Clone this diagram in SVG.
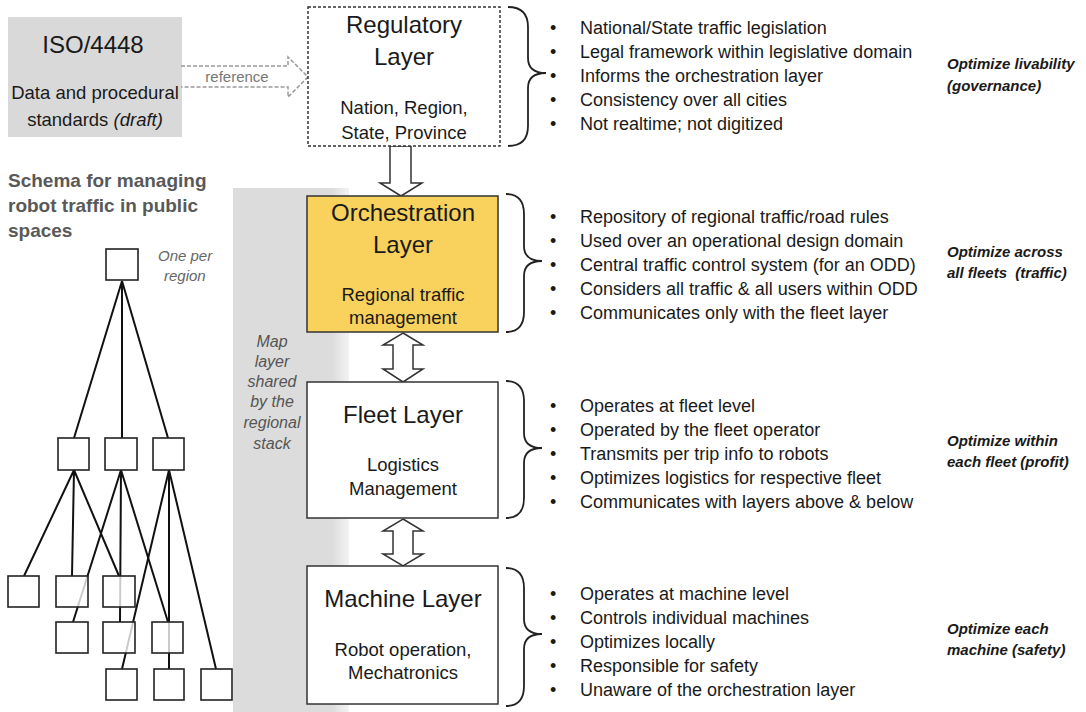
<svg xmlns="http://www.w3.org/2000/svg" width="1086" height="712" viewBox="0 0 1086 712">
<defs>
<linearGradient id="band" x1="0" y1="0" x2="1" y2="0">
<stop offset="0" stop-color="#dcdcdc"/><stop offset="0.85" stop-color="#dcdcdc"/><stop offset="1" stop-color="#f3f3f3"/>
</linearGradient>
<style>
text{font-family:"Liberation Sans",Arial,sans-serif;fill:#1a1a1a}
.title{font-size:24px;text-anchor:middle}
.sub{font-size:18.5px;text-anchor:middle}
.bul{font-size:18px}
.opt{font-size:15px;font-weight:bold;font-style:italic}
.layer{stroke:#333;stroke-width:1.5}
.brace{fill:none;stroke:#222;stroke-width:1.8}
.blk{fill:#fff;stroke:#333;stroke-width:1.5;stroke-linejoin:miter}
.tl{stroke:#111;stroke-width:2;fill:none}
.tb{fill:#fff;fill-opacity:0.78;stroke:#222;stroke-width:1.6}
</style>
</defs>
<rect width="1086" height="712" fill="#fff"/>

<!-- map band -->
<g id="map-band">
<rect x="233" y="188" width="116" height="524" fill="url(#band)"/>
<text font-size="16" font-style="italic" text-anchor="middle" style="fill:#555">
<tspan x="272" y="347">Map</tspan><tspan x="272" y="367">layer</tspan><tspan x="272" y="387">shared</tspan><tspan x="272" y="407">by the</tspan><tspan x="272" y="428">regional</tspan><tspan x="272" y="449">stack</tspan>
</text>
</g>

<!-- ISO -->
<g id="iso">
<rect x="8" y="17" width="174" height="120" fill="#d9d9d9"/>
<text x="93" y="53" class="title">ISO/4448</text>
<text x="95" y="99" class="sub" font-size="18">Data and procedural</text>
<text x="95" y="126" class="sub" font-size="18">standards <tspan font-style="italic">(draft)</tspan></text>
</g>

<!-- schema -->
<g id="schema-title">
<text font-size="19" font-weight="bold" style="fill:#595959"><tspan x="8" y="187">Schema for managing</tspan><tspan x="8" y="212">robot traffic in public</tspan><tspan x="8" y="237">spaces</tspan></text>
<text font-size="15" font-style="italic" style="fill:#666"><tspan x="158" y="261">One per</tspan><tspan x="164" y="281">region</tspan></text>
</g>

<g id="connectors">
<!-- reference arrow -->
<path d="M181,66 H288 V57 L308,77 L288,97 V87 H181" fill="none" stroke="#999" stroke-width="1.5" stroke-dasharray="4,2"/>
<text x="237" y="82" font-size="15" text-anchor="middle" style="fill:#777">reference</text>
<!-- reg -> orch -->
<path class="blk" d="M390,146 H411 V183 H422 L401,196 L380,183 H390 Z"/>
<!-- orch <-> fleet -->
<path class="blk" d="M403,333 L423,345 H413 V369 H423 L403,382 L383,369 H393 V345 H383 Z"/>
<!-- fleet <-> machine -->
<path class="blk" d="M403,519 L423,531 H413 V554 H423 L403,566 L383,554 H393 V531 H383 Z"/>
<!-- tree lines -->
<path class="tl" d="M122,281 L74,438 M122,281 V438 M122,281 L168,438"/>
<path class="tl" d="M74,470 L24,576 M74,470 L72,576 M74,470 L119,576"/>
<path class="tl" d="M121,470 L73,622 M121,470 L120,622 M121,470 L168,622"/>
<path class="tl" d="M169,470 L122,669 M169,470 V669 M169,470 L216,669"/>
<!-- braces -->
<path class="brace" d="M508,7 Q528,7 528,27 V58 Q528,73 546,73 Q528,73 528,88 V126 Q528,146 508,146"/>
<path class="brace" d="M506,194 Q524,194 524,214 V246 Q524,261 542,261 Q524,261 524,276 V312 Q524,332 506,332"/>
<path class="brace" d="M506,381 Q524,381 524,401 V433 Q524,448 542,448 Q524,448 524,463 V498 Q524,518 506,518"/>
<path class="brace" d="M506,568 Q524,568 524,588 V619 Q524,634 542,634 Q524,634 524,649 V686 Q524,706 506,706"/>
</g>

<g id="tree">
<rect class="tb" x="106" y="249" width="32" height="31"/>
<rect class="tb" x="58" y="438" width="31" height="32"/>
<rect class="tb" x="105" y="438" width="32" height="32"/>
<rect class="tb" x="153" y="438" width="31" height="32"/>
<rect class="tb" x="8" y="576" width="31" height="31"/>
<rect class="tb" x="56" y="576" width="32" height="31"/>
<rect class="tb" x="103" y="576" width="32" height="31"/>
<rect class="tb" x="56" y="622" width="32" height="31"/>
<rect class="tb" x="103" y="622" width="32" height="31"/>
<rect class="tb" x="152" y="622" width="31" height="31"/>
<rect class="tb" x="106" y="669" width="31" height="31"/>
<rect class="tb" x="154" y="669" width="30" height="31"/>
<rect class="tb" x="201" y="669" width="31" height="31"/>
</g>

<g id="regulatory">
<rect x="308" y="7" width="192" height="139" fill="#fff" stroke="#333" stroke-width="1.5" stroke-dasharray="3,2"/>
<text x="404" y="33" class="title">Regulatory</text>
<text x="404" y="65" class="title">Layer</text>
<text x="404" y="114" class="sub">Nation, Region,</text>
<text x="404" y="139" class="sub">State, Province</text>
</g>

<g id="orchestration">
<rect class="layer" x="307" y="196" width="191" height="136" fill="#f9d25e"/>
<text x="403" y="221" class="title">Orchestration</text>
<text x="403" y="253" class="title">Layer</text>
<text x="403" y="301" class="sub">Regional traffic</text>
<text x="403" y="324" class="sub">management</text>
</g>

<g id="fleet">
<rect class="layer" x="307" y="382" width="191" height="136" fill="#fff"/>
<text x="403" y="423" class="title">Fleet Layer</text>
<text x="403" y="471" class="sub">Logistics</text>
<text x="403" y="495" class="sub">Management</text>
</g>

<g id="machine">
<rect class="layer" x="307" y="566" width="191" height="138" fill="#fff"/>
<text x="403" y="607" class="title" font-size="23.5">Machine Layer</text>
<text x="403" y="656" class="sub">Robot operation,</text>
<text x="403" y="679" class="sub">Mechatronics</text>
</g>

<g id="reg-bullets" class="bul">
<text><tspan x="550" y="34">•</tspan><tspan x="580" y="34">National/State traffic legislation</tspan></text>
<text><tspan x="550" y="58">•</tspan><tspan x="580" y="58">Legal framework within legislative domain</tspan></text>
<text><tspan x="550" y="82">•</tspan><tspan x="580" y="82">Informs the orchestration layer</tspan></text>
<text><tspan x="550" y="106">•</tspan><tspan x="580" y="106">Consistency over all cities</tspan></text>
<text><tspan x="550" y="130">•</tspan><tspan x="580" y="130">Not realtime; not digitized</tspan></text>
<text class="opt"><tspan x="947" y="69">Optimize livability</tspan><tspan x="947" y="91">(governance)</tspan></text>
</g>

<g id="orch-bullets" class="bul">
<text><tspan x="550" y="223">•</tspan><tspan x="580" y="223">Repository of regional traffic/road rules</tspan></text>
<text><tspan x="550" y="247">•</tspan><tspan x="580" y="247">Used over an operational design domain</tspan></text>
<text><tspan x="550" y="271">•</tspan><tspan x="580" y="271">Central traffic control system (for an ODD)</tspan></text>
<text><tspan x="550" y="295">•</tspan><tspan x="580" y="295">Considers all traffic &amp; all users within ODD</tspan></text>
<text><tspan x="550" y="319">•</tspan><tspan x="580" y="319">Communicates only with the fleet layer</tspan></text>
<text class="opt"><tspan x="947" y="257">Optimize across</tspan><tspan x="947" y="278" xml:space="preserve">all fleets  (traffic)</tspan></text>
</g>

<g id="fleet-bullets" class="bul">
<text><tspan x="550" y="412">•</tspan><tspan x="580" y="412">Operates at fleet level</tspan></text>
<text><tspan x="550" y="436">•</tspan><tspan x="580" y="436">Operated by the fleet operator</tspan></text>
<text><tspan x="550" y="460">•</tspan><tspan x="580" y="460">Transmits per trip info to robots</tspan></text>
<text><tspan x="550" y="484">•</tspan><tspan x="580" y="484">Optimizes logistics for respective fleet</tspan></text>
<text><tspan x="550" y="508">•</tspan><tspan x="580" y="508">Communicates with layers above &amp; below</tspan></text>
<text class="opt"><tspan x="947" y="446">Optimize within</tspan><tspan x="947" y="467">each fleet (profit)</tspan></text>
</g>

<g id="machine-bullets" class="bul">
<text><tspan x="550" y="600">•</tspan><tspan x="580" y="600">Operates at machine level</tspan></text>
<text><tspan x="550" y="624">•</tspan><tspan x="580" y="624">Controls individual machines</tspan></text>
<text><tspan x="550" y="648">•</tspan><tspan x="580" y="648">Optimizes locally</tspan></text>
<text><tspan x="550" y="672">•</tspan><tspan x="580" y="672">Responsible for safety</tspan></text>
<text><tspan x="550" y="696">•</tspan><tspan x="580" y="696">Unaware of the orchestration layer</tspan></text>
<text class="opt"><tspan x="947" y="634">Optimize each</tspan><tspan x="947" y="655">machine (safety)</tspan></text>
</g>
</svg>
